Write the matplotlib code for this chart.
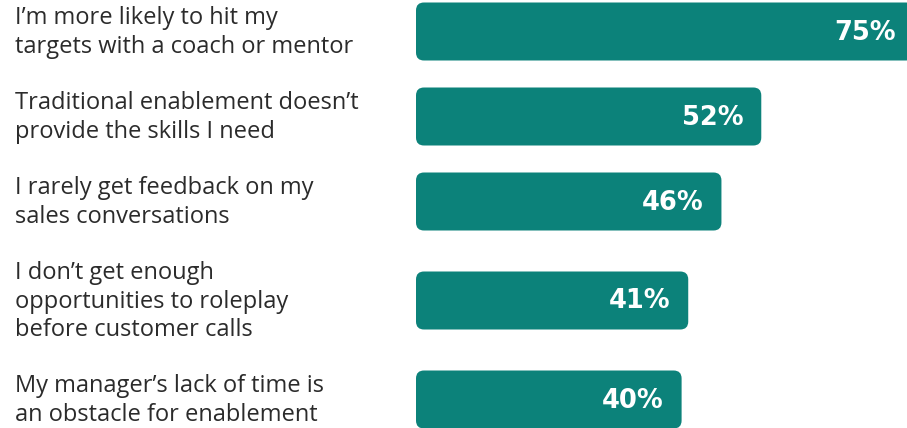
import matplotlib.pyplot as plt
from matplotlib.patches import FancyBboxPatch

labels = [
    "I\u2019m more likely to hit my\ntargets with a coach or mentor",
    "Traditional enablement doesn\u2019t\nprovide the skills I need",
    "I rarely get feedback on my\nsales conversations",
    "I don\u2019t get enough\nopportunities to roleplay\nbefore customer calls",
    "My manager\u2019s lack of time is\nan obstacle for enablement",
]
values = [75, 52, 46, 41, 40]

W, H = 907, 428
bar_color = "#0c827a"
text_color = "#2b2b2b"
px_per_unit = 6.64
left_px = 416

fig = plt.figure(figsize=(W / 100, H / 100), dpi=100)
ax = fig.add_axes([left_px / W, 0, 1 - left_px / W, 1])
ax.set_xlim(0, (W - left_px) / px_per_unit)
ax.set_ylim(H, 0)  # y in pixels from top
ax.axis("off")

# vertical positions depend on how many lines each label has
nlines = [l.count("\n") + 1 for l in labels]
centers = [31.5]
for i in range(1, len(labels)):
    centers.append(centers[-1] + (nlines[i - 1] + nlines[i]) / 2 * 28 + 29)

bar_h = 58
for lab, v, c in zip(labels, values, centers):
    box = FancyBboxPatch((0, c - bar_h / 2), v, bar_h,
                         boxstyle="round,pad=0,rounding_size=1.2",
                         mutation_aspect=px_per_unit,
                         fc=bar_color, ec="none", clip_on=True)
    ax.add_patch(box)
    ax.text(v - 18 / px_per_unit, c + 1, f"{v}%", ha="right", va="center",
            color="white", fontsize=18.5, fontweight="bold", family="DejaVu Sans")
    fig.text(15 / W, 1 - (c + 1) / H, lab, ha="left", va="center", color=text_color,
             fontsize=17, family="Open Sans", linespacing=1.26)

fig.savefig("out.png", dpi=100)
